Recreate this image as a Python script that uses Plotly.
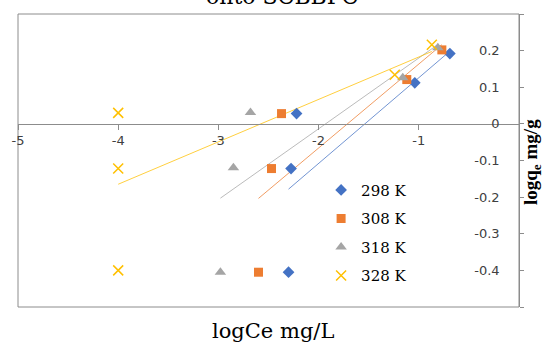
import numpy as np
import plotly.graph_objects as go

# ---- data ----
series_names = ["298 K", "308 K", "318 K", "328 K"]
x_298 = [-2.22, -2.275, -2.30, -1.04, -0.69]
y_298 = [0.028, -0.122, -0.405, 0.112, 0.192]
x_308 = [-2.37, -2.47, -2.60, -1.12, -0.77]
y_308 = [0.028, -0.122, -0.405, 0.121, 0.202]
x_318 = [-2.68, -2.85, -2.98, -1.16, -0.81]
y_318 = [0.031, -0.120, -0.405, 0.126, 0.208]
x_328 = [-4.0, -4.0, -4.0, -1.24, -0.87]
y_328 = [0.030, -0.122, -0.400, 0.134, 0.216]

x_tick_vals = [-5, -4, -3, -2, -1, 0]
x_tick_text = ["-5", "-4", "-3", "-2", "-1", "0"]
y_tick_vals = [0.3, 0.2, 0.1, 0, -0.1, -0.2, -0.3, -0.4, -0.5]
y_tick_text = ["0.3", "0.2", "0.1", "0", "-0.1", "-0.2", "-0.3", "-0.4", "-0.5"]

xs = [x_298, x_308, x_318, x_328]
ys = [y_298, y_308, y_318, y_328]
colors = ["#4472C4", "#ED7D31", "#A5A5A5", "#FFC000"]
symbols = ["diamond", "square", "triangle-up", "x-thin"]
sizes = [9, 9, 10, 10]

fig = go.Figure()

# linear trendlines (least squares over each series, spanning data range)
for xv, yv, c in zip(xs, ys, colors):
    a, b = np.polyfit(xv, yv, 1)
    xl = np.array([min(xv), max(xv)])
    fig.add_trace(go.Scatter(x=xl, y=a * xl + b, mode="lines",
                             line=dict(color=c, width=1), opacity=0.75,
                             showlegend=False, hoverinfo="skip"))

for i, (xv, yv, c, s, sz, name) in enumerate(zip(xs, ys, colors, symbols, sizes, series_names)):
    if s == "x-thin":
        marker = dict(symbol=s, size=sz, color=c, line=dict(color=c, width=1.5))
    else:
        marker = dict(symbol=s, size=sz, color=c, line=dict(width=0))
    fig.add_trace(go.Scatter(x=xv, y=yv, mode="markers", name=name,
                             marker=marker, legendgroup=name))

frame_color = "#8c8c8c"
tick_font = dict(family="DejaVu Sans", size=13, color="#404040")

fig.update_layout(
    width=550, height=342,
    margin=dict(l=16, r=31, t=14, b=35),
    paper_bgcolor="white", plot_bgcolor="white",
    showlegend=True,
    legend=dict(x=0.605, y=0.455, xanchor="left", yanchor="top",
                font=dict(family="DejaVu Serif", size=15, color="black"),
                bgcolor="rgba(0,0,0,0)", tracegroupgap=6,
                itemwidth=30),
    xaxis=dict(range=[-5, 0], tickvals=x_tick_vals, ticktext=x_tick_text,
               showgrid=False, zeroline=False, showline=True,
               linecolor=frame_color, linewidth=1,
               ticks="outside", ticklen=5, tickcolor=frame_color,
               anchor="free", position=0.625, tickfont=tick_font),
    yaxis=dict(range=[-0.5, 0.3], tickvals=y_tick_vals, ticktext=y_tick_text,
               showgrid=False, zeroline=False, showline=True,
               linecolor=frame_color, linewidth=1, side="right",
               ticks="outside", ticklen=4, tickcolor=frame_color,
               ticklabelposition="inside", ticklabelstandoff=19,
               tickfont=tick_font),
    shapes=[dict(type="rect", xref="paper", yref="paper", x0=0, x1=1, y0=0, y1=1,
                 line=dict(color=frame_color, width=1), layer="below")],
    annotations=[
        dict(text="onto SCBBPC", xref="paper", yref="paper", x=0.527, y=1.06,
             xanchor="center", yanchor="middle", showarrow=False,
             font=dict(family="DejaVu Serif", size=22, color="black")),
        dict(text="logCe mg/L", xref="paper", yref="paper", x=0.509, y=-0.082,
             xanchor="center", yanchor="middle", showarrow=False,
             font=dict(family="DejaVu Serif", size=21, color="black")),
        dict(text="<b>logq<sub>e</sub> mg/g</b>", xref="paper", yref="paper",
             x=1.026, y=0.495, xanchor="center", yanchor="middle", textangle=-90,
             showarrow=False,
             font=dict(family="Liberation Serif", size=19, color="black")),
    ],
)

fig.write_html("out.html")
